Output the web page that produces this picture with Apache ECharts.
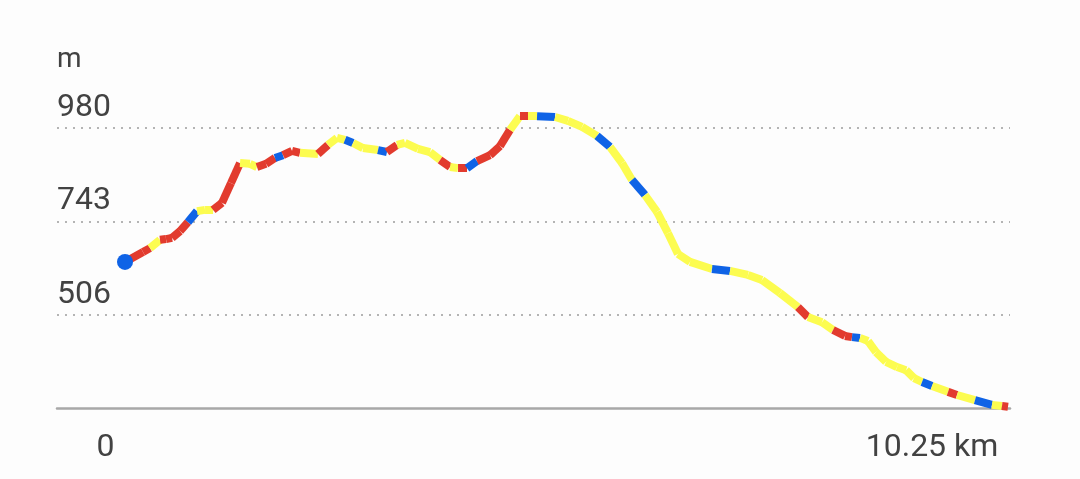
<!DOCTYPE html>
<html>
<head>
<meta charset="utf-8">
<script src="https://cdn.jsdelivr.net/npm/echarts@6/dist/echarts.min.js"></script>
<style>
html,body{margin:0;padding:0;background:#fdfdfd;}
#chart{width:1080px;height:479px;}
</style>
</head>
<body>
<div id="chart"></div>
<script>
// distance along the track (km)
const distanceKm = [0.000,0.209,0.290,0.406,0.476,0.546,0.639,0.731,0.836,0.929,
  1.022,1.126,1.230,1.335,1.451,1.532,1.637,1.741,1.834,1.939,
  2.031,2.240,2.356,2.461,2.554,2.647,2.763,2.937,3.041,3.157,
  3.250,3.401,3.541,3.657,3.773,3.866,3.970,4.086,4.237,4.353,
  4.469,4.585,4.678,4.783,4.992,5.142,5.305,5.479,5.630,5.769,
  5.885,6.036,6.176,6.303,6.419,6.559,6.814,7.023,7.232,7.394,
  7.603,7.812,7.928,8.091,8.219,8.358,8.439,8.532,8.625,8.718,
  8.834,8.962,9.066,9.159,9.252,9.368,9.554,9.658,9.867,10.064,
  10.180,10.250];
// elevation (m)
const elevationM = [640,665,675,696,698,701,718,741,769,772,
  772,790,840,891,889,881,889,904,911,922,
  917,914,937,955,950,942,929,924,919,937,
  942,927,919,899,881,878,878,896,911,934,
  975,1010,1010,1010,1008,998,983,960,932,891,
  848,810,767,713,660,640,622,617,607,594,
  561,525,500,487,467,452,449,447,439,411,
  386,373,365,345,335,325,310,302,289,277,
  274,272];
// colour class of each stretch between consecutive points
const segmentClass = ("RRYRRRRBYY" + "RRRYYRRBRR" + "YRYYBYYBRY" + "YYYRYRBRRR" +
  "YRYBYYYBYY" + "BYYYYYBYYY" + "YRYYRRBYYY" + "YYYYBYRYBYR").split("");
const yTicks = [506, 743, 980];
const xTickLabels = ["0", "10.25 km"];

const palette = { R: "#e23b2e", Y: "#fcfc50", B: "#0f63e6" };

const segData = [];
for (let i = 0; i < distanceKm.length - 1; i++) {
  segData.push({
    coords: [[distanceKm[i], elevationM[i]], [distanceKm[i + 1], elevationM[i + 1]]],
    lineStyle: { color: palette[segmentClass[i]] }
  });
}

const txt = { fontFamily: "Roboto", color: "#424242" };

const chart = echarts.init(document.getElementById("chart"), null, { renderer: "canvas" });
chart.setOption({
  backgroundColor: "#fdfdfd",
  animation: false,
  grid: { left: 57, right: 70, top: 80.74, bottom: 71, containLabel: false },
  xAxis: {
    type: "value",
    min: -0.7894,
    max: 10.2732,
    axisLine: { show: true, onZero: false, lineStyle: { color: "#a8a8a8", width: 2.5 } },
    axisTick: { show: false, customValues: [-0.2264, 9.368] },
    splitLine: { show: false },
    axisLabel: {
      customValues: [-0.2264, 9.368],
      formatter: function (v) { return v < 5 ? xTickLabels[0] : xTickLabels[1]; },
      fontSize: 32, margin: 24, ...txt
    }
  },
  yAxis: {
    type: "value",
    min: 269,
    max: 1100,
    name: "m",
    nameLocation: "end",
    nameGap: 7,
    nameTextStyle: { fontSize: 28, align: "left", verticalAlign: "bottom", ...txt },
    axisLine: { show: false, onZero: false },
    axisTick: { show: false, customValues: yTicks },
    splitLine: { show: true, lineStyle: { color: "#b4b4b4", width: 2, type: [2, 6] } },
    axisLabel: {
      customValues: yTicks,
      inside: true,
      margin: 0,
      verticalAlign: "bottom",
      padding: [0, 0, 4, 0],
      fontSize: 32, ...txt
    }
  },
  series: [
    {
      type: "lines",
      coordinateSystem: "cartesian2d",
      polyline: false,
      lineStyle: { width: 8, opacity: 1, cap: "butt" },
      data: segData,
      z: 3
    },
    {
      type: "scatter",
      data: [[distanceKm[0], elevationM[0]]],
      symbolSize: 16,
      itemStyle: { color: "#0f63e6", opacity: 1 },
      z: 4
    }
  ]
});
</script>
</body>
</html>
